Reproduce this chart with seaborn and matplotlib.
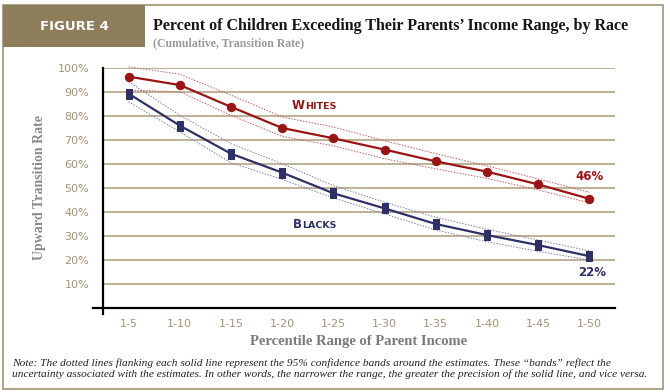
import numpy as np
import pandas as pd
import matplotlib
matplotlib.use("Agg")
import matplotlib.pyplot as plt
import seaborn as sns
from matplotlib.patches import Rectangle

# data
ranges = ['1-5', '1-10', '1-15', '1-20', '1-25', '1-30', '1-35', '1-40', '1-45', '1-50']
whites = [96.4, 92.9, 83.8, 75.0, 70.7, 66.0, 61.1, 56.8, 51.5, 45.5]
whites_hi = [100.5, 97.4, 88.7, 79.6, 75.4, 69.7, 64.3, 59.2, 53.8, 48.2]
whites_lo = [90.8, 90.1, 80.3, 71.5, 67.6, 62.2, 58.0, 54.0, 49.2, 43.8]
blacks = [89.3, 76.0, 64.3, 56.4, 47.8, 41.5, 35.0, 30.4, 26.2, 21.6]
blacks_hi = [94.3, 80.3, 68.5, 60.1, 51.0, 44.1, 37.8, 32.8, 28.3, 23.8]
blacks_lo = [85.9, 73.4, 60.5, 53.6, 45.9, 39.2, 32.5, 27.6, 23.6, 20.0]
yticks = [10, 20, 30, 40, 50, 60, 70, 80, 90, 100]

RED = '#9B1414'
BLUE = '#2E3068'
TAN = '#A39373'
GRID = '#B8AB8E'

sns.set_style("white")
plt.rcParams['font.family'] = ['DejaVu Sans']

fig = plt.figure(figsize=(6.7, 3.92), dpi=100)
ax = fig.add_axes([103/670, 1-308/392, 512/670, 240/392])

# confidence bands (dotted)
sns.lineplot(x=ranges, y=whites_hi, ax=ax, color='#C45A5A', lw=0.7, ls=(0, (1.5, 1.5)), sort=False)
sns.lineplot(x=ranges, y=whites_lo, ax=ax, color='#C45A5A', lw=0.7, ls=(0, (1.5, 1.5)), sort=False)
sns.lineplot(x=ranges, y=blacks_hi, ax=ax, color='#7C7EA8', lw=0.7, ls=(0, (1.5, 1.5)), sort=False)
sns.lineplot(x=ranges, y=blacks_lo, ax=ax, color='#7C7EA8', lw=0.7, ls=(0, (1.5, 1.5)), sort=False)

# main lines
sns.lineplot(x=ranges, y=whites, ax=ax, color=RED, lw=1.6, marker='o', markersize=6,
             markeredgecolor=RED, sort=False)
rect = [(-0.6, -1), (0.6, -1), (0.6, 1), (-0.6, 1), (-0.6, -1)]
sns.lineplot(x=ranges, y=blacks, ax=ax, color=BLUE, lw=1.6, marker=rect, markersize=7.5,
             markeredgecolor=BLUE, sort=False)

for l in ax.lines:
    l.set_clip_on(False)

ax.set_xlim(-0.5, 9.5)
ax.set_ylim(0, 100)
ax.set_yticks(yticks)
ax.set_yticklabels([f'{v}%' for v in yticks])
ax.yaxis.grid(True, color=GRID, lw=1.3)
ax.set_axisbelow(True)

for s in ['top', 'right']:
    ax.spines[s].set_visible(False)
ax.spines['left'].set_color('black')
ax.spines['bottom'].set_color('black')
ax.spines['left'].set_linewidth(1.6)
ax.spines['bottom'].set_linewidth(1.6)
ax.spines['left'].set_bounds(-2.5, 100)
ax.spines['bottom'].set_bounds(-0.7, 9.5)

ax.tick_params(axis='y', length=0, pad=10, labelsize=8, labelcolor=TAN)
ax.tick_params(axis='x', length=5, width=1.5, color='black', pad=3, labelsize=8, labelcolor=TAN)

ax.set_xlabel('Percentile Range of Parent Income', family='Liberation Serif', fontweight='bold',
              fontsize=10.5, color='#7A7A7A', labelpad=4)
ax.set_ylabel('Upward Transition Rate', family='Liberation Serif', fontweight='bold',
              fontsize=10, color='#8A8A8A', labelpad=8)

# series labels in small caps
ax.text(3.44, 82.9, 'W', color=RED, fontsize=8.5, fontweight='bold', ha='right', va='baseline')
ax.text(3.44, 82.9, 'HITES', color=RED, fontsize=6.8, fontweight='bold', ha='left', va='baseline')
ax.text(3.38, 33.3, 'B', color=BLUE, fontsize=8.5, fontweight='bold', ha='right', va='baseline')
ax.text(3.38, 33.3, 'LACKS', color=BLUE, fontsize=6.8, fontweight='bold', ha='left', va='baseline')
ax.text(9.0, 54.6, f'{round(whites[-1])}%', color=RED, fontsize=8.5, fontweight='bold',
        ha='center', va='center')
ax.text(9.05, 15.0, f'{round(blacks[-1])}%', color=BLUE, fontsize=8.5, fontweight='bold',
        ha='center', va='center')

# frame and header
W, H = 670, 392
fig.patches.append(Rectangle((3/W, 1-389/H), 660/W, 384/H, transform=fig.transFigure,
                             fill=False, edgecolor='#A09377', lw=1.2))
fig.patches.append(Rectangle((3/W, 1-47/H), 142/W, 42/H, transform=fig.transFigure,
                             facecolor='#8E7D5A', edgecolor='none'))
fig.text(74/W, 1-27/H, 'FIGURE 4', color='white', fontsize=9.5, fontweight='bold',
         ha='center', va='center')
fig.text(153/W, 1-26/H, "Percent of Children Exceeding Their Parents\u2019 Income Range, by Race",
         family='Liberation Serif', fontweight='bold', fontsize=11.5, color='#161616',
         ha='left', va='center')
fig.text(153/W, 1-43/H, '(Cumulative, Transition Rate)', family='Liberation Serif',
         fontweight='bold', fontsize=8.5, color='#9A9A9A', ha='left', va='center')

fig.text(12/W, 1-363/H, 'Note: The dotted lines flanking each solid line represent the 95% confidence bands '
         'around the estimates. These \u201cbands\u201d reflect the', family='Liberation Serif',
         style='italic', fontsize=8.2, color='#222222', ha='left', va='center')
fig.text(12/W, 1-374/H, 'uncertainty associated with the estimates. In other words, the narrower the range, '
         'the greater the precision of the solid line, and vice versa.', family='Liberation Serif',
         style='italic', fontsize=8.2, color='#222222', ha='left', va='center')

fig.savefig('out.png', dpi=100)
